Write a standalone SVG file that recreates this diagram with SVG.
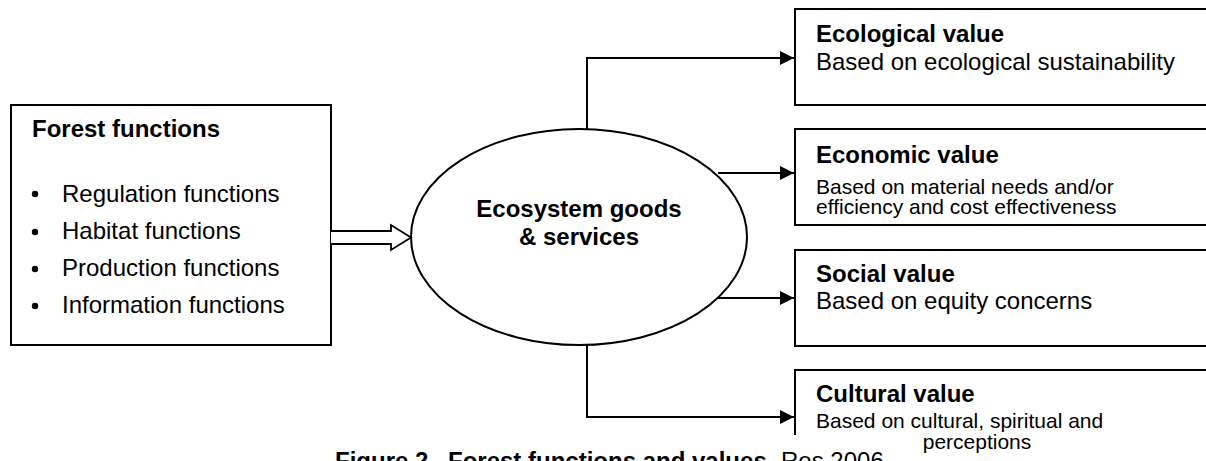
<svg xmlns="http://www.w3.org/2000/svg" width="1206" height="461" viewBox="0 0 1206 461">
<defs>
<style>
.box{fill:#fff;stroke:#000;stroke-width:2}
.con{fill:none;stroke:#000;stroke-width:2}
.t{font-family:"Liberation Sans",Arial,sans-serif;fill:#000}
.b{font-weight:bold;font-size:24px}
.r{font-size:24px}
.s{font-size:21px}
</style>
<marker id="ah" markerUnits="userSpaceOnUse" markerWidth="14" markerHeight="14" refX="14" refY="7" orient="auto">
<path d="M0,0 L14,7 L0,14 z" fill="#000"/>
</marker>
</defs>
<rect width="1206" height="461" fill="#fff"/>
<g id="forest-functions">
<rect class="box" x="11" y="105" width="320" height="240"/>
<text class="t b" x="32" y="137">Forest functions</text>
<circle cx="35" cy="194" r="3.2"/>
<circle cx="35" cy="232" r="3.2"/>
<circle cx="35" cy="269" r="3.2"/>
<circle cx="35" cy="306" r="3.2"/>
<text class="t r" x="62" y="202">Regulation functions</text>
<text class="t r" x="62" y="239">Habitat functions</text>
<text class="t r" x="62" y="276">Production functions</text>
<text class="t r" x="62" y="313">Information functions</text>
</g>
<g id="ecosystem">
<ellipse class="box" cx="579" cy="237" rx="168" ry="108"/>
<text class="t b" x="579" y="217" text-anchor="middle">Ecosystem goods</text>
<text class="t b" x="579" y="245" text-anchor="middle">&amp; services</text>
</g>
<g id="ecological">
<rect class="box" x="795" y="9" width="420" height="96"/>
<text class="t b" x="816" y="42">Ecological value</text>
<text class="t r" x="816" y="70">Based on ecological sustainability</text>
</g>
<g id="economic">
<rect class="box" x="795" y="129" width="420" height="96"/>
<text class="t b" x="816" y="163">Economic value</text>
<text class="t s" x="816" y="194">Based on material needs and/or</text>
<text class="t s" x="816" y="214">efficiency and cost effectiveness</text>
</g>
<g id="social">
<rect class="box" x="795" y="250" width="420" height="96"/>
<text class="t b" x="816" y="282">Social value</text>
<text class="t r" x="816" y="309">Based on equity concerns</text>
</g>
<g id="cultural">
<path class="con" d="M1210,370 H795 V435"/>
<text class="t b" x="816" y="402">Cultural value</text>
<text class="t s" x="816" y="428">Based on cultural, spiritual and</text>
<text class="t s" x="977" y="449" text-anchor="middle">perceptions</text>
</g>
<g id="connectors">
<path d="M331,231 H391 V225 L411,237.5 L391,250 V244 H331" fill="#fff" stroke="#000" stroke-width="1.8"/>
<path class="con" d="M587,129 V58 H794" marker-end="url(#ah)"/>
<path class="con" d="M718,173 H794" marker-end="url(#ah)"/>
<path class="con" d="M718,298 H794" marker-end="url(#ah)"/>
<path class="con" d="M587,345 V417 H794" marker-end="url(#ah)"/>
</g>
<g id="caption">
<text class="t b" x="335" y="469">Figure 2.</text>
<text class="t b" x="448" y="469">Forest functions and values.</text>
<text class="t r" x="781" y="469">Ros 2006</text>
</g>
</svg>
